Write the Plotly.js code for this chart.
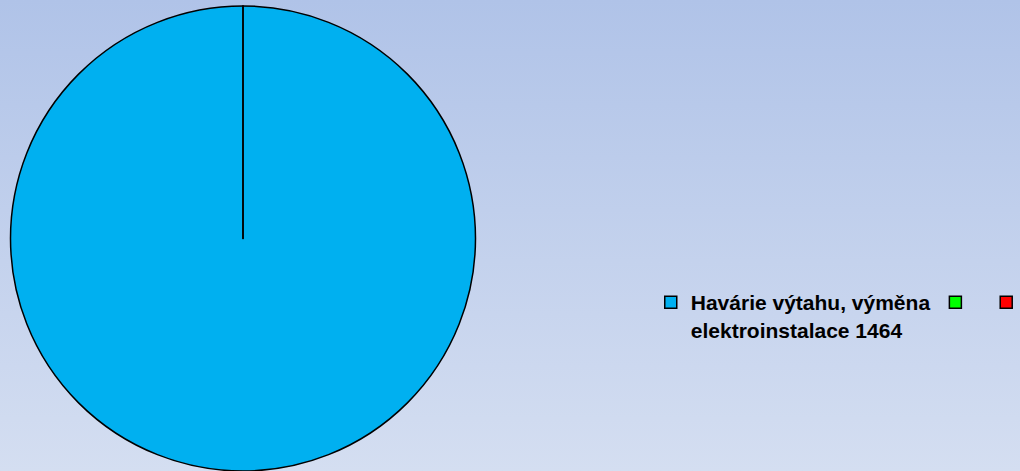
<!DOCTYPE html>
<html>
<head>
<meta charset="utf-8">
<script src="https://cdn.plot.ly/plotly-3.0.1.min.js"></script>
<style>
html,body{margin:0;padding:0;}
body{width:1020px;height:471px;background:linear-gradient(to bottom,#b0c3e8 0%,#d4def1 100%);}
#chart{width:1020px;height:471px;}
</style>
</head>
<body>
<div id="chart"></div>
<script>
const labels = ["Havárie výtahu, výměna<br>elektroinstalace 1464", " ", "  "];
const values = [1464, 0, 0];
const colors = ["#00B0F0", "#00FF00", "#FF0000"];

const trace = {
  type: "pie",
  labels: labels,
  values: values,
  sort: false,
  direction: "clockwise",
  rotation: 0,
  textinfo: "none",
  hoverinfo: "label+value",
  marker: {colors: colors, line: {color: "#000000", width: 1.5}},
  domain: {x: [10/1020, 476/1020], y: [0, 465/471]}
};

const layout = {
  width: 1020, height: 471,
  margin: {l: 0, r: 0, t: 0, b: 0, autoexpand: false},
  paper_bgcolor: "rgba(0,0,0,0)",
  plot_bgcolor: "rgba(0,0,0,0)",
  showlegend: true,
  legend: {
    orientation: "h",
    x: 0.638, xanchor: "left",
    y: (471 - 282) / 471, yanchor: "top",
    valign: "top",
    bgcolor: "rgba(0,0,0,0)",
    font: {family: "Liberation Sans, Arial, sans-serif", size: 21, color: "#000000", weight: "bold"},
    itemwidth: 30
  }
};

Plotly.newPlot("chart", [trace], layout, {displayModeBar: false, staticPlot: true});
</script>
</body>
</html>
